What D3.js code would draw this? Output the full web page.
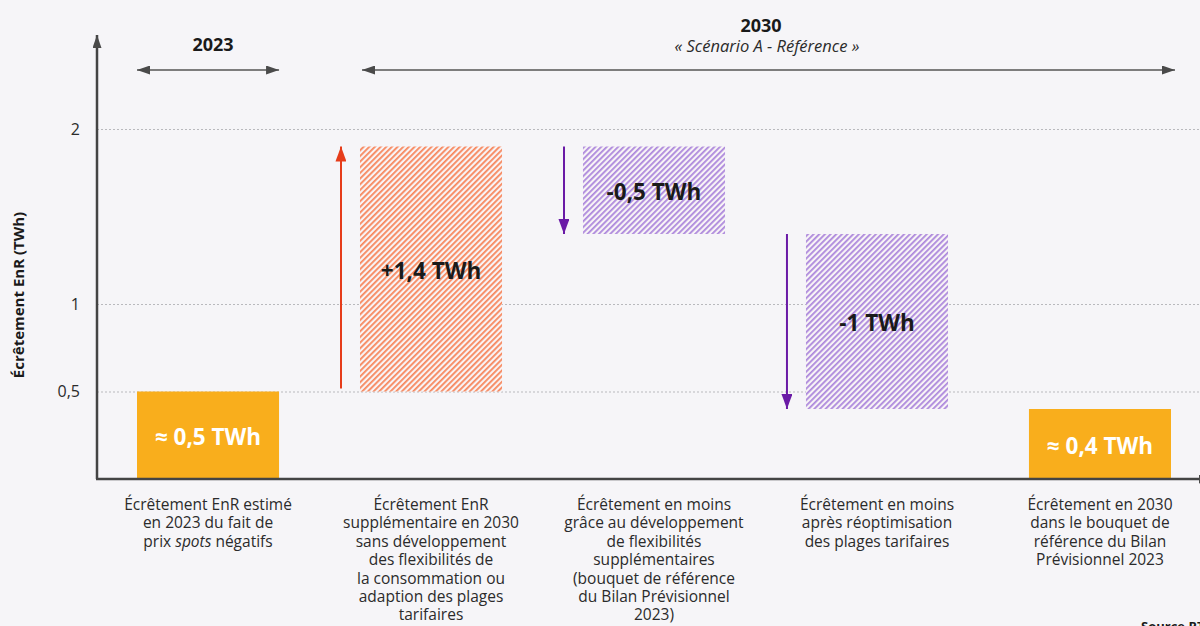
<!DOCTYPE html>
<html>
<head>
<meta charset="utf-8">
<script src="https://cdn.jsdelivr.net/npm/d3@7"></script>
<style>
  html, body { margin: 0; padding: 0; background: #f6f5f8; }
  svg { display: block; font-family: "Open Sans", sans-serif; }
</style>
</head>
<body>
<div id="chart"></div>
<script>
// --- data
const categories = ['ecr2023', 'supp2030', 'flex', 'plages', 'bp2030'];
const startValues = [0, 0.5, 1.9, 1.4, 0];
const endValues = [0.5, 1.9, 1.4, 0.4, 0.4];
const barLabels = ['≈ 0,5 TWh', '+1,4 TWh', '-0,5 TWh', '-1 TWh', '≈ 0,4 TWh'];
const categoryLabels = [
  ['Écrêtement EnR estimé', 'en 2023 du fait de', 'prix |spots| négatifs'],
  ['Écrêtement EnR', 'supplémentaire en 2030', 'sans développement', 'des flexibilités de', 'la consommation ou', 'adaption des plages', 'tarifaires'],
  ['Écrêtement en moins', 'grâce au développement', 'de flexibilités', 'supplémentaires', '(bouquet de référence', 'du Bilan Prévisionnel', '2023)'],
  ['Écrêtement en moins', 'après réoptimisation', 'des plages tarifaires'],
  ['Écrêtement en 2030', 'dans le bouquet de', 'référence du Bilan', 'Prévisionnel 2023']
];
const yTicks = [0.5, 1, 2];
const yTickLabels = ['0,5', '1', '2'];
const periods = ['2023', '2030'];
const periodSubtitle = '« Scénario A - Référence »';
const yTitle = 'Écrêtement EnR (TWh)';
const sourceText = 'Source RTE';

const width = 1200, height = 626;
const axisX = 97, axisY = 479;

const svg = d3.select('#chart').append('svg')
  .attr('width', width)
  .attr('height', height);

svg.append('rect').attr('width', width).attr('height', height).attr('fill', '#f6f5f8');

const x = d3.scaleBand()
  .domain(categories)
  .range([137, 1171])
  .paddingInner(0.363)
  .paddingOuter(0);

const y = d3.scaleLinear()
  .domain([0, 2])
  .range([axisY, 129]);

// --- defs: hatch patterns and markers
const defs = svg.append('defs');

function hatch(id, color) {
  const p = defs.append('pattern')
    .attr('id', id)
    .attr('patternUnits', 'userSpaceOnUse')
    .attr('width', 4).attr('height', 4)
    .attr('patternTransform', 'rotate(45)');
  p.append('rect').attr('width', 4).attr('height', 4).attr('fill', '#f8f4f6');
  p.append('rect').attr('width', 1.8).attr('height', 4).attr('fill', color);
}
hatch('hatchUp', '#f7875d');
hatch('hatchDown', '#ad88dc');

function marker(id, color, len, w) {
  defs.append('marker')
    .attr('id', id)
    .attr('markerUnits', 'userSpaceOnUse')
    .attr('viewBox', `0 ${-w / 2} ${len} ${w}`)
    .attr('refX', len).attr('refY', 0)
    .attr('markerWidth', len).attr('markerHeight', w)
    .attr('orient', 'auto-start-reverse')
    .append('path')
    .attr('d', `M0,${-w / 2}L${len},0L0,${w / 2}Z`)
    .attr('fill', color);
}
marker('arrGrey', '#4a4a4a', 13, 9);
marker('arrRed', '#e63c1a', 15, 11);
marker('arrPurple', '#6a1aa6', 15, 11);

// --- grid + y tick labels
const yAxis = svg.append('g')
  .attr('transform', `translate(${axisX},0)`)
  .call(d3.axisLeft(y)
    .tickValues(yTicks)
    .tickSize(-(width - axisX))
    .tickPadding(17)
    .tickFormat((d, i) => yTickLabels[i]));
yAxis.select('.domain').remove();
yAxis.selectAll('.tick line')
  .attr('stroke', '#b9b9bd')
  .attr('stroke-dasharray', '2,2');
yAxis.selectAll('.tick text')
  .attr('font-size', 16)
  .attr('font-family', '"Open Sans", sans-serif')
  .attr('fill', '#2b2b2b');

// --- bars
const bars = svg.append('g');
categories.forEach((c, i) => {
  const s = startValues[i], e = endValues[i];
  const top = y(Math.max(s, e)), bottom = y(Math.min(s, e));
  let fill = '#f9ae1c';
  if (s !== 0) fill = e > s ? 'url(#hatchUp)' : 'url(#hatchDown)';
  bars.append('rect')
    .attr('x', x(c))
    .attr('y', top)
    .attr('width', x.bandwidth())
    .attr('height', bottom - top)
    .attr('fill', fill);

  bars.append('text')
    .attr('x', x(c) + x.bandwidth() / 2)
    .attr('y', (top + bottom) / 2 + 2)
    .attr('dy', '0.35em')
    .attr('text-anchor', 'middle')
    .attr('font-size', 22.5)
    .attr('font-weight', 700)
    .attr('fill', s === 0 ? '#ffffff' : '#1a1a1a')
    .text(barLabels[i]);

  // change arrows beside the floating bars
  if (s !== 0) {
    const up = e > s;
    bars.append('line')
      .attr('x1', x(c) - 19).attr('x2', x(c) - 19)
      .attr('y1', up ? y(s) - 3 : y(s))
      .attr('y2', y(e))
      .attr('stroke', up ? '#e63c1a' : '#6a1aa6')
      .attr('stroke-width', 2)
      .attr('marker-end', up ? 'url(#arrRed)' : 'url(#arrPurple)');
  }

  // category label
  const t = svg.append('text')
    .attr('text-anchor', 'middle')
    .attr('font-size', 15.5)
    .attr('fill', '#2b2b2b');
  categoryLabels[i].forEach((line, j) => {
    const tl = t.append('tspan')
      .attr('x', x(c) + x.bandwidth() / 2)
      .attr('y', 510 + j * 18.4);
    line.split('|').forEach((part, k) => {
      tl.append('tspan')
        .attr('font-style', k % 2 === 1 ? 'italic' : null)
        .text(part);
    });
  });
});

// --- axes with arrowheads
svg.append('line')
  .attr('x1', axisX).attr('x2', axisX)
  .attr('y1', axisY).attr('y2', 35)
  .attr('stroke', '#444').attr('stroke-width', 2.5)
  .attr('marker-end', 'url(#arrGrey)');
svg.append('line')
  .attr('x1', axisX - 1).attr('x2', 1212)
  .attr('y1', axisY).attr('y2', axisY)
  .attr('stroke', '#444').attr('stroke-width', 2.5)
  .attr('marker-end', 'url(#arrGrey)');

// --- y title
svg.append('text')
  .attr('transform', `translate(24,295) rotate(-90)`)
  .attr('text-anchor', 'middle')
  .attr('font-size', 15)
  .attr('font-weight', 700)
  .attr('fill', '#1a1a1a')
  .text(yTitle);

// --- period headers with double arrows
const spans = [
  [x(categories[0]), x(categories[0]) + x.bandwidth()],
  [x(categories[1]) + 2, x(categories[4]) + x.bandwidth() + 4]
];
spans.forEach((sp) => {
  svg.append('line')
    .attr('x1', sp[0]).attr('x2', sp[1])
    .attr('y1', 70).attr('y2', 70)
    .attr('stroke', '#555').attr('stroke-width', 1.5)
    .attr('marker-start', 'url(#arrGrey)')
    .attr('marker-end', 'url(#arrGrey)');
});
svg.append('text')
  .attr('x', (spans[0][0] + spans[0][1]) / 2 + 5).attr('y', 51)
  .attr('text-anchor', 'middle')
  .attr('font-size', 18).attr('font-weight', 700).attr('fill', '#1a1a1a')
  .text(periods[0]);
svg.append('text')
  .attr('x', 761).attr('y', 32)
  .attr('text-anchor', 'middle')
  .attr('font-size', 18).attr('font-weight', 700).attr('fill', '#1a1a1a')
  .text(periods[1]);
svg.append('text')
  .attr('x', 767).attr('y', 52)
  .attr('text-anchor', 'middle')
  .attr('font-size', 16.5).attr('font-style', 'italic').attr('fill', '#2b2b2b')
  .text(periodSubtitle);

// --- source (cut by the frame)
svg.append('text')
  .attr('x', 1141).attr('y', 631)
  .attr('font-size', 13).attr('font-weight', 700).attr('fill', '#1a1a1a')
  .text(sourceText);
</script>
</body>
</html>
